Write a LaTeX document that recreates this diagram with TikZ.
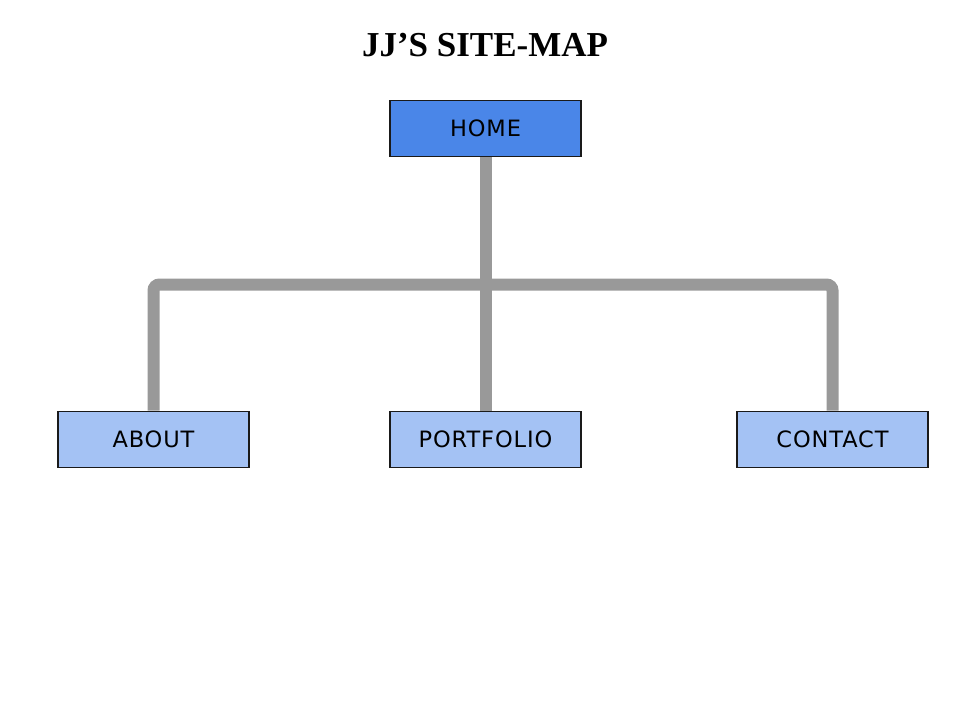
\documentclass[tikz,border=0pt]{standalone}
\usepackage{fontspec}
\setmainfont{Liberation Serif}
\newfontfamily\boxfont[LetterSpace=4]{DejaVu Sans}
\usetikzlibrary{backgrounds}
\definecolor{homeblue}{HTML}{4A86E8}
\definecolor{childblue}{HTML}{A4C2F4}
\definecolor{conngray}{HTML}{999999}
\definecolor{edgedark}{HTML}{1A1A1A}
\tikzset{
  pagebox/.style={draw=edgedark, line width=1.6pt, minimum width=191pt, minimum height=56pt,
    inner sep=0pt, font=\boxfont\fontsize{22.5}{26}\selectfont, text=black},
  homebox/.style={pagebox, fill=homeblue},
  childbox/.style={pagebox, fill=childblue},
  conn/.style={draw=conngray, line width=12pt, line cap=butt, rounded corners=6pt},
}
\begin{document}
\begin{tikzpicture}[x=1pt,y=-1pt]
\useasboundingbox (0,0) rectangle (960,720);
\node[font=\bfseries\fontsize{35}{40}\selectfont] (title) at (485,45) {JJ’S SITE-MAP};
\node[homebox] (home) at (485.5,128.5) {HOME};
\node[childbox] (about) at (153.5,439.5) {ABOUT};
\node[childbox] (portfolio) at (485.5,439.5) {PORTFOLIO};
\node[childbox] (contact) at (832.5,439.5) {CONTACT};
\coordinate (bar) at (485.5,284.5);
\begin{scope}[on background layer]
\draw[conn] (about.north) |- (bar) -| (contact.north);
\draw[conn] (home.south) -- (portfolio.north);
\end{scope}
\end{tikzpicture}
\end{document}
